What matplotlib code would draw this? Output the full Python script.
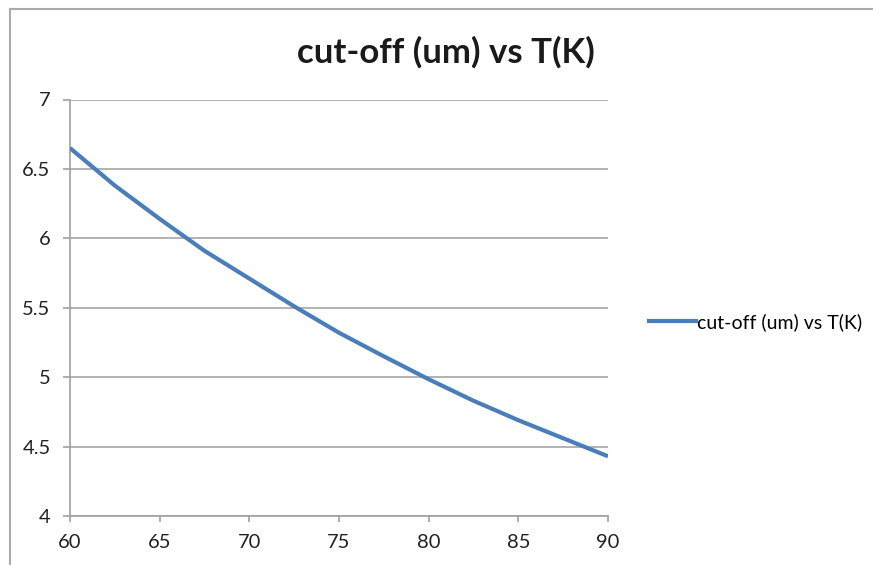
import matplotlib
matplotlib.use("Agg")
import matplotlib.pyplot as plt
from matplotlib.lines import Line2D

# Data
temperature_K = [60, 62.5, 65, 67.5, 70, 72.5, 75, 77.5, 80, 82.5, 85, 87.5, 90]
cutoff_um = [6.65, 6.38, 6.14, 5.91, 5.71, 5.51, 5.32, 5.15, 4.985, 4.83, 4.69, 4.56, 4.43]
series_name = "cut-off (um) vs T(K)"
title_text = "cut-off (um) vs T(K)"
x_ticks = [60, 65, 70, 75, 80, 85, 90]
y_ticks = [4, 4.5, 5, 5.5, 6, 6.5, 7]
y_tick_labels = ["4", "4.5", "5", "5.5", "6", "6.5", "7"]

plt.rcParams['font.family'] = ['Lato', 'DejaVu Sans']

W, H = 873, 565
fig = plt.figure(figsize=(W / 100, H / 100), dpi=100)
fig.patch.set_facecolor("white")

left, right, top, bottom = 70, 608, 99.5, 516
ax = fig.add_axes([left / W, 1 - bottom / H, (right - left) / W, (bottom - top) / H])

line_color = "#4A7EBB"
grid_color = "#A6A6A6"
axis_color = "#A0A0A0"

ax.plot(temperature_K, cutoff_um, color=line_color, lw=3.0, solid_capstyle="butt",
        label=series_name, zorder=3)

ax.set_xlim(60, 90)
ax.set_ylim(4, 7)
ax.set_xticks(x_ticks)
ax.set_xticklabels([str(t) for t in x_ticks])
ax.set_yticks(y_ticks)
ax.set_yticklabels(y_tick_labels)

ax.yaxis.grid(True, color=grid_color, lw=1.2)
ax.set_axisbelow(True)
for s in ["top", "right"]:
    ax.spines[s].set_visible(False)
for s in ["left", "bottom"]:
    ax.spines[s].set_color(axis_color)
    ax.spines[s].set_linewidth(1.2)

ax.tick_params(axis="y", direction="out", length=5, width=1.2, color=axis_color,
               labelsize=14.5, labelcolor="#222222", pad=9)
ax.tick_params(axis="x", direction="out", length=4, width=1.2, color=axis_color,
               labelsize=14.5, labelcolor="#222222", pad=9)

fig.text(446 / W, 1 - 52 / H, title_text, ha="center", va="center",
         fontsize=25, fontweight="bold", color="#1a1a1a")

# Legend
leg_handle = Line2D([], [], color=line_color, lw=3.0)
fig.legend([leg_handle], [series_name], loc="center left",
           bbox_to_anchor=(649 / W, 1 - 322 / H), frameon=False, fontsize=14,
           handlelength=2.4, handletextpad=0.05, borderpad=0, borderaxespad=0)

# Outer chart border (top and left visible)
fig.add_artist(Line2D([10 / W, 10 / W], [0, 1 - 9 / H], transform=fig.transFigure,
                      color="#AAAAAA", lw=1.5))
fig.add_artist(Line2D([10 / W, 1], [1 - 9 / H, 1 - 9 / H], transform=fig.transFigure,
                      color="#AAAAAA", lw=1.5))

fig.savefig("out.png", dpi=100)
